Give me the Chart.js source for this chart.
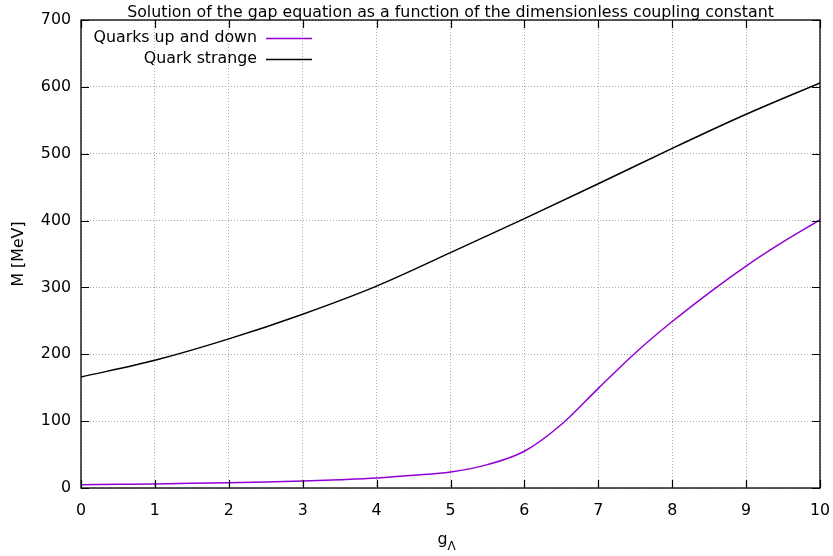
<!DOCTYPE html>
<html>
<head>
<meta charset="utf-8">
<title>Gap equation</title>
<script src="https://cdn.jsdelivr.net/npm/chart.js@4.4.1/dist/chart.umd.min.js"></script>
<style>
  html, body { margin: 0; padding: 0; background: #fff; }
  canvas { display: block; }
</style>
</head>
<body>
<canvas id="gapChart" width="833" height="556"></canvas>
<script>
// coupling constant g_Lambda and the constituent masses (MeV)
const gLambda = [0, 0.5, 1, 1.5, 2, 2.5, 3, 3.5, 4, 4.5, 5, 5.5, 6, 6.5, 7, 7.5, 8, 8.5, 9, 9.5, 10];
const massUpDown = [5, 5.5, 6, 7, 8, 9, 10.5, 12.5, 15, 19, 24, 35, 55, 95, 149, 202, 249, 292, 332, 368, 401];
const gStrange = [0, 1, 2, 3, 4, 5, 6, 7, 8, 9, 10];
const massStrange = [166, 191, 223, 260, 302, 352, 403, 455, 508, 559, 606];
const xTicks = [0, 10, 1];
const yTicks = [0, 700, 100];

const FONT = "'DejaVu Sans', sans-serif";
const FS = 15.8;

function pairs(xs, ys) {
    return xs.map((x, i) => ({ x: x, y: ys[i] }));
}

// frame, inward ticks, titles and the key are drawn here in gnuplot style
const gnuplotDecor = {
    id: 'gnuplotDecor',
    afterDraw(chart) {
        const c = chart.ctx;
        const a = chart.chartArea;
        const xs = chart.scales.x, ys = chart.scales.y;
        c.save();
        c.strokeStyle = '#000';
        c.lineWidth = 1.3;
        c.strokeRect(a.left, a.top, a.right - a.left, a.bottom - a.top);

        c.lineWidth = 1.2;
        c.beginPath();
        for (let v = xTicks[0]; v <= xTicks[1]; v += xTicks[2]) {
            const px = Math.round(xs.getPixelForValue(v)) + 0.5;
            c.moveTo(px, a.bottom); c.lineTo(px, a.bottom - 8);
            c.moveTo(px, a.top); c.lineTo(px, a.top + 8);
        }
        for (let v = yTicks[0]; v <= yTicks[1]; v += yTicks[2]) {
            const py = Math.round(ys.getPixelForValue(v)) + 0.5;
            c.moveTo(a.left, py); c.lineTo(a.left + 8, py);
            c.moveTo(a.right, py); c.lineTo(a.right - 8, py);
        }
        c.stroke();

        c.fillStyle = '#000';
        c.font = FS + 'px ' + FONT;
        c.textAlign = 'center';
        c.textBaseline = 'alphabetic';
        c.fillText('Solution of the gap equation as a function of the dimensionless coupling constant',
            (a.left + a.right) / 2, 17);

        // y axis title
        c.save();
        c.translate(19, (a.top + a.bottom) / 2);
        c.rotate(-Math.PI / 2);
        c.textBaseline = 'middle';
        c.fillText('M [MeV]', 0, 0);
        c.restore();

        // x axis title with subscript
        const cx = (a.left + a.right) / 2 - 3;
        c.textAlign = 'left';
        const gw = c.measureText('g').width;
        c.fillText('g', cx - gw, 544);
        c.font = '12px ' + FONT;
        c.fillText('\u039B', cx, 550);

        // key
        c.font = FS + 'px ' + FONT;
        c.textAlign = 'right';
        c.textBaseline = 'middle';
        chart.data.datasets.forEach((ds, i) => {
            const y = 38 + i * 21;
            c.fillStyle = '#000';
            c.fillText(ds.label, 257, y);
            c.strokeStyle = ds.borderColor;
            c.lineWidth = 1.3;
            c.beginPath();
            c.moveTo(266, y + 0.5); c.lineTo(312, y + 0.5);
            c.stroke();
        });
        c.restore();
    }
};

new Chart(document.getElementById('gapChart'), {
    type: 'line',
    data: {
        datasets: [{
            label: 'Quarks up and down',
            data: pairs(gLambda, massUpDown),
            borderColor: '#9400d3',
            borderWidth: 1.5,
            pointRadius: 0,
            cubicInterpolationMode: 'monotone',
            fill: false
        }, {
            label: 'Quark strange',
            data: pairs(gStrange, massStrange),
            borderColor: '#000000',
            borderWidth: 1.5,
            pointRadius: 0,
            cubicInterpolationMode: 'monotone',
            fill: false
        }]
    },
    options: {
        responsive: false,
        animation: false,
        events: [],
        layout: { padding: { top: 20, right: 13, left: 0, bottom: 0 } },
        plugins: {
            legend: { display: false },
            title: { display: false },
            tooltip: { enabled: false }
        },
        scales: {
            x: {
                type: 'linear',
                min: xTicks[0],
                max: xTicks[1],
                afterFit(scale) {
                    scale.height = 68;
                    scale.paddingLeft = 0;
                    scale.paddingRight = 0;
                },
                ticks: {
                    stepSize: xTicks[2],
                    color: '#000',
                    font: { family: FONT, size: FS },
                    padding: 13,
                    maxRotation: 0
                },
                grid: { color: '#aaaaaa', lineWidth: 1, drawTicks: false },
                border: { display: false, dash: [1, 2] }
            },
            y: {
                type: 'linear',
                min: yTicks[0],
                max: yTicks[1],
                afterFit(scale) {
                    scale.width = 81;
                    scale.paddingTop = 0;
                    scale.paddingBottom = 0;
                },
                ticks: {
                    stepSize: yTicks[2],
                    color: '#000',
                    font: { family: FONT, size: FS },
                    padding: 10
                },
                grid: { color: '#aaaaaa', lineWidth: 1, drawTicks: false },
                border: { display: false, dash: [1, 2] }
            }
        }
    },
    plugins: [gnuplotDecor]
});
</script>
</body>
</html>
